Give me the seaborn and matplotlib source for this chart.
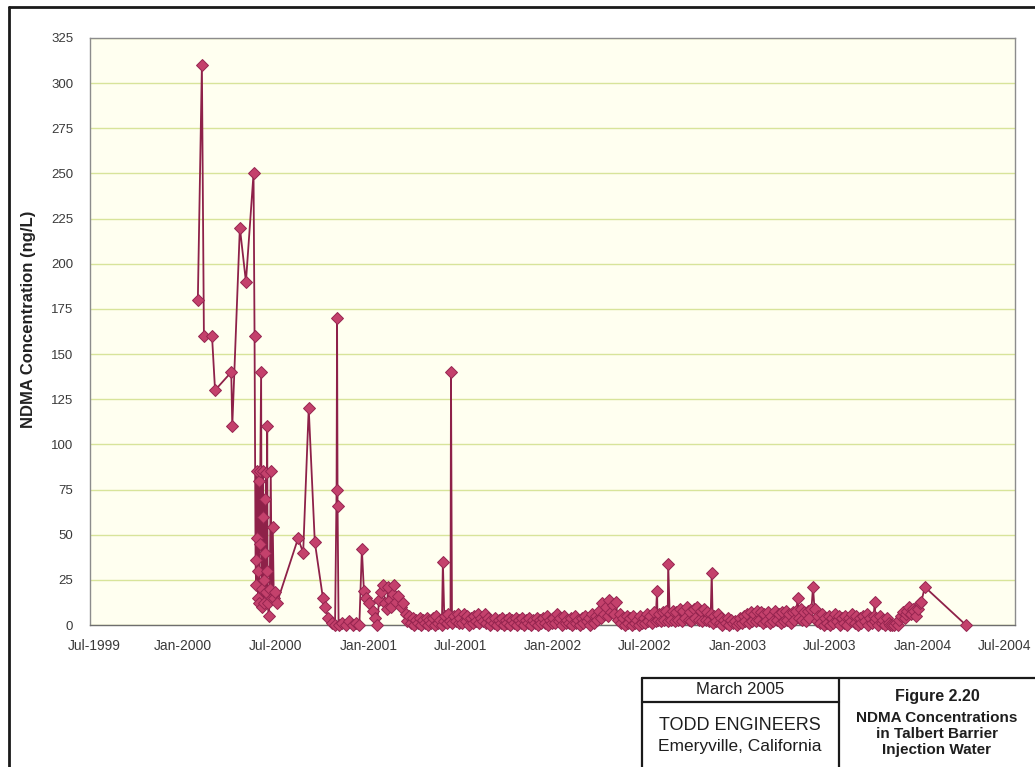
import matplotlib
matplotlib.use("Agg")
import matplotlib.pyplot as plt
import matplotlib.transforms as mtransforms
import seaborn as sns
import pandas as pd
from matplotlib.lines import Line2D

# ---------------- data ----------------
# early, sparse sampling (Jan 2000 - Mar 2001)
early_dates = [
    "2000-01-30", "2000-02-07", "2000-02-11", "2000-02-27", "2000-03-04",
    "2000-04-05", "2000-04-07", "2000-04-22", "2000-05-04", "2000-05-19",
    "2000-05-21", "2000-05-23", "2000-05-24", "2000-05-25", "2000-05-26",
    "2000-05-27", "2000-05-28", "2000-05-29", "2000-05-30", "2000-05-31",
    "2000-06-01", "2000-06-03", "2000-06-04", "2000-06-05", "2000-06-06",
    "2000-06-07", "2000-06-08", "2000-06-09", "2000-06-10", "2000-06-11",
    "2000-06-12", "2000-06-13", "2000-06-14", "2000-06-15", "2000-06-16",
    "2000-06-18", "2000-06-20", "2000-06-22", "2000-06-24", "2000-06-26",
    "2000-06-28", "2000-06-30", "2000-07-04", "2000-08-15", "2000-08-25",
    "2000-09-05", "2000-09-17", "2000-10-03", "2000-10-07", "2000-10-14",
    "2000-10-21", "2000-10-27", "2000-10-30", "2000-10-31", "2000-11-01",
    "2000-11-03", "2000-11-10", "2000-11-17", "2000-11-24", "2000-12-01",
    "2000-12-08", "2000-12-14", "2000-12-19", "2000-12-23", "2000-12-28",
    "2001-01-03", "2001-01-09", "2001-01-14", "2001-01-18", "2001-01-22",
    "2001-01-26", "2001-01-30", "2001-02-03", "2001-02-06", "2001-02-09",
    "2001-02-12", "2001-02-15", "2001-02-18", "2001-02-21", "2001-02-25",
    "2001-03-01", "2001-03-06", "2001-03-11", "2001-03-16",
]
early_values = [
    180, 310, 160, 160, 130,
    140, 110, 220, 190, 250,
    160, 36, 22, 48, 85,
    30, 15, 80, 12, 45,
    85, 140, 20, 10, 60,
    85, 25, 12, 70, 40,
    18, 84, 30, 110, 12,
    5, 20, 85, 15, 54,
    15, 18, 12, 48, 40,
    120, 46, 15, 10, 4,
    1, 0, 75, 170, 66,
    0, 1, 0, 2, 0,
    1, 0, 42, 19, 15,
    12, 8, 4, 0, 14,
    18, 22, 12, 9, 21,
    14, 10, 17, 22, 13,
    16, 10, 12, 6,
]

# dense sampling (Mar 2001 - Mar 2004), one row per month
dense_dates = [
    "2001-03-19", "2001-03-22", "2001-03-26", "2001-03-29",
    "2001-04-01", "2001-04-05", "2001-04-08", "2001-04-12", "2001-04-15", "2001-04-19", "2001-04-22", "2001-04-26", "2001-04-29",
    "2001-05-01", "2001-05-05", "2001-05-08", "2001-05-12", "2001-05-15", "2001-05-19", "2001-05-22", "2001-05-26", "2001-05-28", "2001-05-31",
    "2001-06-01", "2001-06-05", "2001-06-08", "2001-06-12", "2001-06-13", "2001-06-15", "2001-06-19", "2001-06-22", "2001-06-26", "2001-06-29",
    "2001-07-01", "2001-07-05", "2001-07-08", "2001-07-12", "2001-07-15", "2001-07-19", "2001-07-22", "2001-07-26", "2001-07-29",
    "2001-08-01", "2001-08-05", "2001-08-08", "2001-08-12", "2001-08-15", "2001-08-19", "2001-08-22", "2001-08-26", "2001-08-29",
    "2001-09-01", "2001-09-05", "2001-09-08", "2001-09-12", "2001-09-15", "2001-09-19", "2001-09-22", "2001-09-26", "2001-09-29",
    "2001-10-01", "2001-10-05", "2001-10-08", "2001-10-12", "2001-10-15", "2001-10-19", "2001-10-22", "2001-10-26", "2001-10-29",
    "2001-11-01", "2001-11-05", "2001-11-08", "2001-11-12", "2001-11-15", "2001-11-19", "2001-11-22", "2001-11-26", "2001-11-29",
    "2001-12-01", "2001-12-05", "2001-12-08", "2001-12-12", "2001-12-15", "2001-12-19", "2001-12-22", "2001-12-26", "2001-12-29",
    "2002-01-01", "2002-01-05", "2002-01-08", "2002-01-12", "2002-01-15", "2002-01-19", "2002-01-22", "2002-01-26", "2002-01-29",
    "2002-02-01", "2002-02-05", "2002-02-08", "2002-02-12", "2002-02-15", "2002-02-19", "2002-02-22", "2002-02-26",
    "2002-03-01", "2002-03-05", "2002-03-08", "2002-03-12", "2002-03-15", "2002-03-19", "2002-03-22", "2002-03-26", "2002-03-29",
    "2002-04-01", "2002-04-05", "2002-04-08", "2002-04-12", "2002-04-15", "2002-04-19", "2002-04-22", "2002-04-26", "2002-04-29",
    "2002-05-01", "2002-05-05", "2002-05-08", "2002-05-12", "2002-05-15", "2002-05-19", "2002-05-22", "2002-05-26", "2002-05-29",
    "2002-06-01", "2002-06-05", "2002-06-08", "2002-06-12", "2002-06-15", "2002-06-19", "2002-06-22", "2002-06-26", "2002-06-29",
    "2002-07-01", "2002-07-05", "2002-07-08", "2002-07-12", "2002-07-15", "2002-07-19", "2002-07-22", "2002-07-25", "2002-07-26", "2002-07-29",
    "2002-08-01", "2002-08-05", "2002-08-08", "2002-08-12", "2002-08-15", "2002-08-16", "2002-08-19", "2002-08-22", "2002-08-26", "2002-08-29",
    "2002-09-01", "2002-09-05", "2002-09-08", "2002-09-12", "2002-09-15", "2002-09-19", "2002-09-22", "2002-09-26", "2002-09-29",
    "2002-10-01", "2002-10-05", "2002-10-08", "2002-10-12", "2002-10-15", "2002-10-19", "2002-10-22", "2002-10-26", "2002-10-29",
    "2002-11-01", "2002-11-05", "2002-11-08", "2002-11-10", "2002-11-12", "2002-11-15", "2002-11-19", "2002-11-22", "2002-11-26", "2002-11-29",
    "2002-12-01", "2002-12-05", "2002-12-08", "2002-12-12", "2002-12-15", "2002-12-19", "2002-12-22", "2002-12-26", "2002-12-30",
    "2003-01-03", "2003-01-05", "2003-01-08", "2003-01-12", "2003-01-15", "2003-01-19", "2003-01-22", "2003-01-26", "2003-01-29",
    "2003-02-01", "2003-02-05", "2003-02-08", "2003-02-12", "2003-02-15", "2003-02-19", "2003-02-22", "2003-02-26",
    "2003-03-01", "2003-03-05", "2003-03-08", "2003-03-12", "2003-03-15", "2003-03-19", "2003-03-22", "2003-03-26", "2003-03-29",
    "2003-04-01", "2003-04-05", "2003-04-08", "2003-04-12", "2003-04-15", "2003-04-19", "2003-04-22", "2003-04-26", "2003-04-29",
    "2003-05-01", "2003-05-05", "2003-05-08", "2003-05-12", "2003-05-15", "2003-05-19", "2003-05-22", "2003-05-26", "2003-05-29",
    "2003-06-01", "2003-06-05", "2003-06-08", "2003-06-12", "2003-06-15", "2003-06-19", "2003-06-22", "2003-06-26", "2003-06-29",
    "2003-07-01", "2003-07-05", "2003-07-08", "2003-07-12", "2003-07-15", "2003-07-19", "2003-07-22", "2003-07-26", "2003-07-29",
    "2003-08-01", "2003-08-05", "2003-08-08", "2003-08-12", "2003-08-15", "2003-08-19", "2003-08-22", "2003-08-26", "2003-08-29",
    "2003-09-01", "2003-09-05", "2003-09-08", "2003-09-12", "2003-09-15", "2003-09-19", "2003-09-22", "2003-09-26", "2003-09-28", "2003-09-29",
    "2003-10-01", "2003-10-05", "2003-10-08", "2003-10-12", "2003-10-15", "2003-10-19", "2003-10-22", "2003-10-26", "2003-10-29",
    "2003-11-01", "2003-11-05", "2003-11-08", "2003-11-12", "2003-11-15", "2003-11-19", "2003-11-22", "2003-11-26", "2003-11-29",
    "2003-12-01", "2003-12-05", "2003-12-08", "2003-12-12", "2003-12-15", "2003-12-19", "2003-12-22", "2003-12-26", "2003-12-29",
    "2004-01-05", "2004-03-26",
]
dense_values = [
    2, 5, 1, 4,
    0, 3, 1, 4, 0, 3, 1, 4, 0,
    3, 1, 4, 0, 5, 1, 3, 0, 35, 2,
    5, 1, 6, 2, 140, 1, 5, 2, 6, 1,
    4, 1, 6, 2, 5, 0, 4, 1, 5,
    2, 6, 1, 4, 2, 6, 1, 4, 0,
    3, 1, 4, 0, 3, 1, 4, 0, 3,
    1, 4, 0, 3, 1, 4, 0, 3, 1,
    4, 0, 3, 1, 4, 0, 3, 1, 4,
    0, 3, 1, 4, 1, 5, 0, 3, 1,
    4, 1, 6, 2, 4, 0, 5, 1, 3,
    1, 4, 0, 5, 1, 3, 0, 4,
    1, 5, 2, 4, 0, 6, 1, 5, 3,
    8, 4, 12, 6, 10, 5, 14, 7, 11,
    6, 13, 3, 6, 1, 4, 0, 5, 1,
    4, 0, 5, 1, 3, 0, 5, 1, 4,
    1, 6, 2, 5, 1, 7, 2, 19, 3, 6,
    2, 7, 3, 8, 2, 34, 6, 3, 8, 2,
    7, 3, 9, 2, 8, 4, 10, 3, 7,
    2, 9, 4, 10, 3, 8, 2, 9, 3,
    7, 2, 6, 29, 1, 5, 2, 6, 1, 4,
    0, 3, 1, 4, 0, 3, 1, 2, 0,
    1, 4, 1, 5, 2, 6, 1, 7, 2,
    6, 2, 8, 3, 7, 1, 6, 2,
    7, 1, 5, 2, 8, 3, 6, 1, 7,
    2, 8, 3, 6, 1, 7, 3, 8, 15,
    4, 9, 3, 7, 2, 8, 4, 9, 21,
    9, 2, 5, 1, 6, 0, 4, 1, 5,
    0, 4, 1, 6, 2, 5, 0, 4, 1,
    5, 0, 4, 2, 6, 1, 5, 0, 4,
    1, 5, 2, 6, 0, 4, 1, 5, 13, 2,
    4, 0, 5, 1, 3, 0, 4, 1, 0,
    0, 0, 1, 0, 3, 5, 7, 4, 6,
    8, 10, 6, 9, 8, 5, 9, 12, 13,
    21, 0,
]

y_tick_values = [0, 25, 50, 75, 100, 125, 150, 175, 200, 225, 250, 275, 300, 325]
x_tick_dates = ["1999-07-01", "2000-01-01", "2000-07-01", "2001-01-01", "2001-07-01",
                "2002-01-01", "2002-07-01", "2003-01-01", "2003-07-01", "2004-01-01",
                "2004-07-01"]
x_tick_labels = ["Jul-1999", "Jan-2000", "Jul-2000", "Jan-2001", "Jul-2001",
                 "Jan-2002", "Jul-2002", "Jan-2003", "Jul-2003", "Jan-2004",
                 "Jul-2004"]

# ---------------- figure ----------------
sns.set_theme(style="white")
plt.rcParams['font.family'] = ['Liberation Sans', 'DejaVu Sans']

W, H = 1035, 767
fig = plt.figure(figsize=(W / 100, H / 100), dpi=100)
fig.patch.set_facecolor('white')

ax = fig.add_axes([90 / W, 1 - 625 / H, 925 / W, 587 / H])
ax.set_facecolor('#FFFFF0')

df = pd.DataFrame({
    'date': pd.to_datetime(early_dates + dense_dates),
    'ndma': early_values + dense_values,
})
sns.lineplot(data=df, x='date', y='ndma', ax=ax, estimator=None, sort=False,
             color='#8E2149', linewidth=1.3, marker='D', markersize=6,
             markerfacecolor='#C4416C', markeredgecolor='#962550',
             markeredgewidth=0.7, zorder=3)
for ln in ax.get_lines():
    ln.set_clip_on(False)

ax.set_xlim(pd.Timestamp(x_tick_dates[0]), pd.Timestamp(x_tick_dates[-1]))
ax.set_ylim(0, 325)
ax.set_xticks(pd.to_datetime(x_tick_dates))
ax.set_xticklabels(x_tick_labels)
ax.set_yticks(y_tick_values)
ax.set_yticklabels([str(v) for v in y_tick_values])

ax.yaxis.grid(True, color='#D8E49A', linewidth=1.0)
ax.xaxis.grid(False)
ax.set_axisbelow(True)

for side, sp in ax.spines.items():
    sp.set_visible(True)
    sp.set_color('#8C8C8C')
    sp.set_linewidth(1.0)
ax.spines['bottom'].set_color('#6E6E6E')

ax.tick_params(axis='both', which='major', direction='out', length=4, width=0.8,
               color='#8C8C8C', labelcolor='#3A3A3A')
ax.tick_params(axis='x', labelsize=10, pad=6)
ax.tick_params(axis='y', labelsize=9.5, pad=8)

xt = ax.get_xticklabels()
xt[0].set_transform(xt[0].get_transform() +
                    mtransforms.ScaledTranslation(4 / 100, 0, fig.dpi_scale_trans))
xt[-1].set_transform(xt[-1].get_transform() +
                     mtransforms.ScaledTranslation(-10 / 100, 0, fig.dpi_scale_trans))

ax.set_xlabel('')
ax.set_ylabel('NDMA Concentration (ng/L)', fontsize=12, fontweight='bold', color='#222222')
ax.yaxis.set_label_coords((36 - 90) / 925, 0.52)

# outer frame (left and top)
fig.add_artist(Line2D([9 / W, 9 / W], [0, 1 - 7 / H], transform=fig.transFigure,
                      color='#1A1A1A', lw=2))
fig.add_artist(Line2D([9 / W, 1], [1 - 7 / H, 1 - 7 / H], transform=fig.transFigure,
                      color='#1A1A1A', lw=2))

# title block
def fline(x0, y0, x1, y1, lw=1.6):
    fig.add_artist(Line2D([x0 / W, x1 / W], [1 - y0 / H, 1 - y1 / H],
                          transform=fig.transFigure, color='#1A1A1A', lw=lw))

fline(642, 678, 1035, 678)
fline(642, 678, 642, 767)
fline(839, 678, 839, 767)
fline(642, 702, 839, 702)

def ftext(x, y, s, size, bold=False):
    fig.text(x / W, 1 - y / H, s, ha='center', va='center', fontsize=size,
             fontweight='bold' if bold else 'normal', color='#1E1E1E')

ftext(740, 690, 'March 2005', 12)
ftext(740, 725, 'TODD ENGINEERS', 13)
ftext(740, 747, 'Emeryville, California', 12.5)
ftext(937, 697, 'Figure 2.20', 11.5, bold=True)
ftext(937, 718, 'NDMA Concentrations', 11, bold=True)
ftext(937, 734, 'in Talbert Barrier', 11, bold=True)
ftext(937, 750, 'Injection Water', 11, bold=True)

fig.savefig('out.png', dpi=100)
